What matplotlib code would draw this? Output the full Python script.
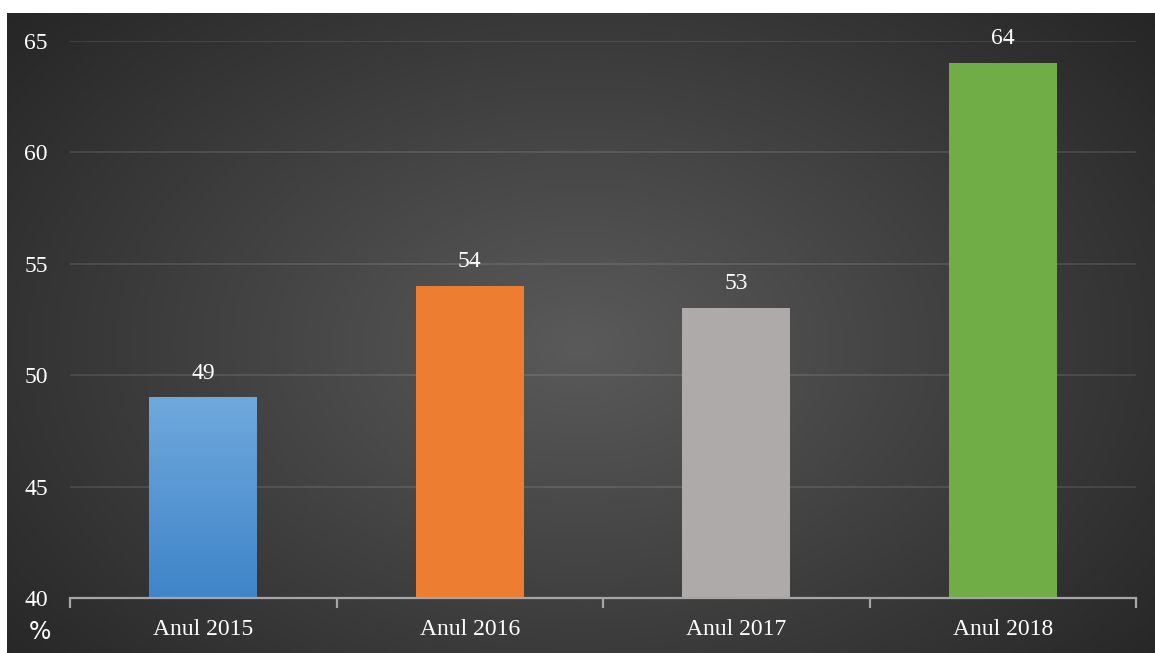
import numpy as np
import matplotlib
matplotlib.use("Agg")
import matplotlib.pyplot as plt
from matplotlib.colors import LinearSegmentedColormap

categories = ["Anul 2015", "Anul 2016", "Anul 2017", "Anul 2018"]
values = [49, 54, 53, 64]
colors = ["#5b9bd5", "#ed7d31", "#aeaaaa", "#70ad47"]
yticks = [40, 45, 50, 55, 60, 65]

W, H = 1155, 653
fig = plt.figure(figsize=(W / 100, H / 100), dpi=100)
fig.patch.set_facecolor("white")

# dark radial background panel (leaves white strip at top and left)
bg = fig.add_axes([7 / W, 0, 1 - 7 / W, 1 - 13 / H])
bg.set_axis_off()
yy, xx = np.mgrid[0:1:300j, 0:1:500j]
r = np.sqrt(((xx - 0.5) / 0.66) ** 2 + ((yy - 0.52) / 0.8) ** 2)
bgcmap = LinearSegmentedColormap.from_list("bg", ["#5a5a5a", "#262626"])
bg.imshow(np.clip(r, 0, 1), cmap=bgcmap, vmin=0, vmax=1, aspect="auto",
          extent=(0, 1, 0, 1), interpolation="bilinear")
bg.set_xlim(0, 1)
bg.set_ylim(0, 1)

ax = fig.add_axes([70 / W, 55 / H, 1066 / W, 557 / H])
ax.patch.set_alpha(0)
x = np.arange(len(categories))
bw = 0.405
bars = ax.bar(x, values, width=bw, color=colors, zorder=3)

# blue bar has a vertical gradient
grad = LinearSegmentedColormap.from_list("blue", ["#3f85c9", "#6fa8dc"])
b0 = bars[0]
ax.imshow(np.linspace(0, 1, 100).reshape(-1, 1), cmap=grad, aspect="auto",
          origin="lower", zorder=4,
          extent=(b0.get_x(), b0.get_x() + b0.get_width(), 40, values[0]))

ax.set_xlim(-0.5, len(categories) - 0.5)
ax.set_ylim(40, 65)
ax.set_yticks(yticks)
ax.grid(axis="y", color="white", alpha=0.1, lw=1.5, zorder=0)
ax.set_axisbelow(True)
for s in ["top", "right", "left"]:
    ax.spines[s].set_visible(False)
ax.spines["bottom"].set_color("#a6a6a6")
ax.spines["bottom"].set_linewidth(1.6)
ax.spines["bottom"].set_zorder(5)

serif = ["Liberation Serif", "DejaVu Serif"]
fs = 17
ax.set_xticks(x)
ax.set_xticklabels(categories, fontsize=fs, color="white", family=serif)
ax.set_xticks(np.arange(-0.5, len(categories)), minor=True)
ax.tick_params(axis="x", which="major", length=0, pad=15)
ax.tick_params(axis="x", which="minor", length=7, width=1.6, color="#a6a6a6")
ax.tick_params(axis="y", length=0, pad=16, labelcolor="white", labelsize=fs)
for lab in ax.get_yticklabels():
    lab.set_family(serif)
    lab.set_color("white")

for xi, v in zip(x, values):
    ax.annotate(str(v), (xi, v), xytext=(0, 10), textcoords="offset points",
                ha="center", va="bottom", fontsize=fs, color="white",
                family=serif, zorder=6)

fig.text(40 / W, 1 - 632 / H, "%", ha="center", va="center", fontsize=17,
         color="white", family=["DejaVu Sans"])

fig.savefig("out.png", dpi=100, facecolor=fig.get_facecolor())
